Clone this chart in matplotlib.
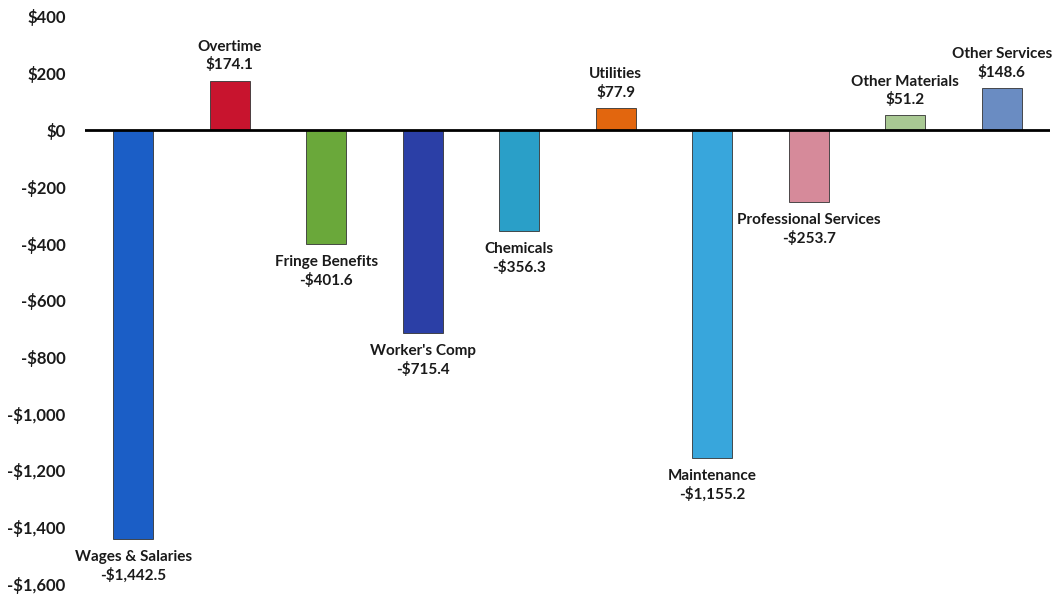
import matplotlib.pyplot as plt
from matplotlib.ticker import FuncFormatter

categories = ["Wages & Salaries", "Overtime", "Fringe Benefits", "Worker's Comp",
              "Chemicals", "Utilities", "Maintenance", "Professional Services",
              "Other Materials", "Other Services"]
values = [-1442.5, 174.1, -401.6, -715.4, -356.3, 77.9, -1155.2, -253.7, 51.2, 148.6]
colors = ["#1b5ec6", "#c8142e", "#6aa83a", "#2b3fa6", "#2a9fc8",
          "#e2660e", "#38a6dc", "#d68a9a", "#a9c993", "#6a8cc2"]

plt.rcParams['font.family'] = ['Lato', 'DejaVu Sans']
plt.rcParams['font.weight'] = 'bold'

fig = plt.figure(figsize=(10.6, 5.96), dpi=100)
ax = fig.add_axes([85 / 1060, 12 / 596, 965 / 1060, 567.5 / 596])

x = list(range(len(categories)))
ax.bar(x, values, width=0.41, color=colors, edgecolor="#333333", linewidth=0.6, zorder=2)
ax.axhline(0, color="black", linewidth=2, zorder=3)

def money(v):
    s = "${:,.1f}".format(abs(v))
    return "-" + s if v < 0 else s

for i, v in enumerate(values):
    label = categories[i] + "\n" + money(v)
    if v >= 0:
        ax.annotate(label, (i, v), xytext=(0, 6), textcoords="offset points",
                    ha="center", va="bottom", fontsize=11, fontweight="bold",
                    linespacing=1.3, color="#1a1a1a")
    else:
        ax.annotate(label, (i, v), xytext=(0, -8), textcoords="offset points",
                    ha="center", va="top", fontsize=11, fontweight="bold",
                    linespacing=1.3, color="#1a1a1a")

ax.set_xlim(-0.5, len(categories) - 0.5)
ax.set_ylim(-1600, 400)
ax.set_yticks(range(-1600, 401, 200))
ax.yaxis.set_major_formatter(FuncFormatter(lambda v, p: "$0" if v == 0 else money(v).replace(".0", "")))
ax.tick_params(axis="y", length=0, labelsize=12, pad=14, labelcolor="#1a1a1a")
ax.set_xticks([])
for s in ax.spines.values():
    s.set_visible(False)

fig.savefig("out.png", dpi=100)
